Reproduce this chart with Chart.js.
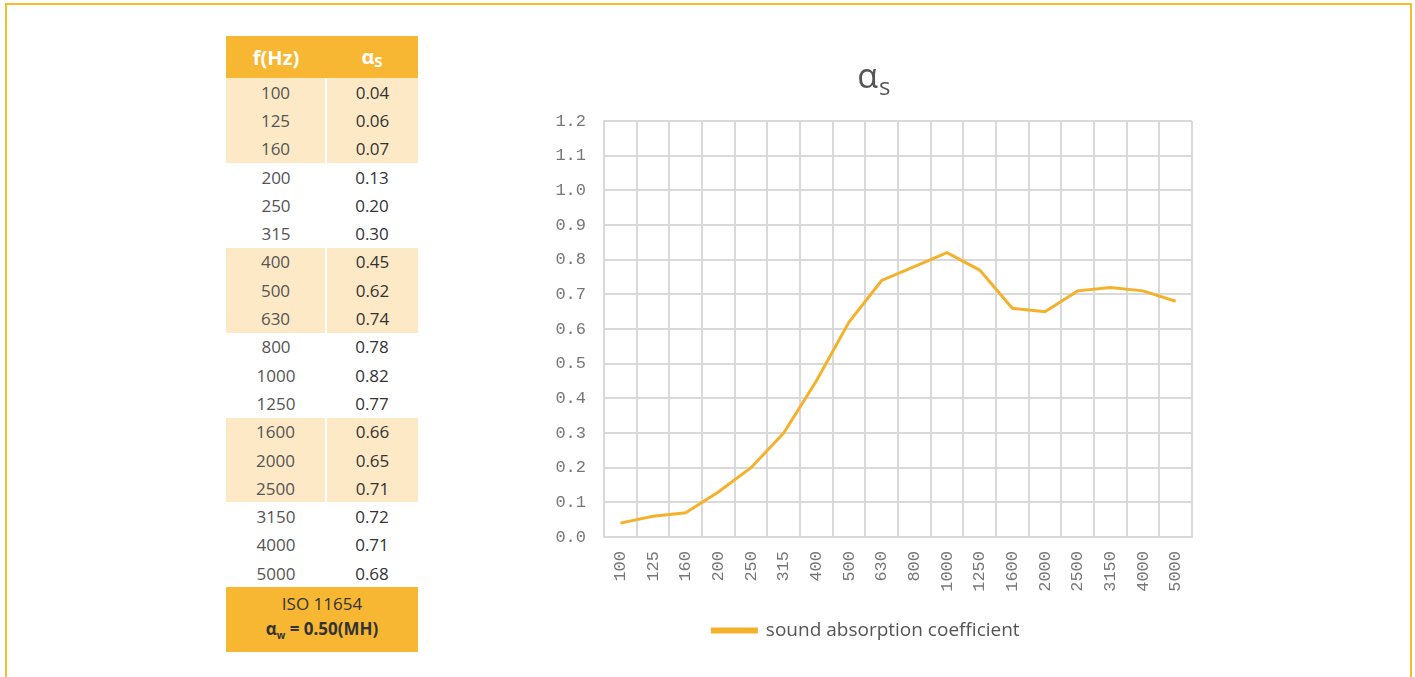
<!DOCTYPE html>
<html>
<head>
<meta charset="utf-8">
<script src="https://cdn.jsdelivr.net/npm/chart.js@4/dist/chart.umd.min.js"></script>
<style>
  html, body { margin: 0; padding: 0; background: #fff; }
  body { width: 1415px; height: 677px; position: relative; overflow: hidden; font-family: "Open Sans", "Noto Sans", sans-serif; }
  .frame { position: absolute; left: 5px; top: 3px; width: 1403px; height: 690px; border: 2px solid #f7bb2e; border-bottom: none; }
  table.data { position: absolute; left: 226px; top: 36px; width: 192px; border-collapse: collapse; }
  table.data td, table.data th { padding: 0; text-align: center; }
  table.data th { background: #f7b733; color: #fff; font-size: 20px; font-weight: bold; height: 42px; }
  table.data td { height: 28.3px; font-size: 17px; }
  table.data td.f { color: #555; width: 99px; }
  table.data td.v { color: #333; }
  table.data tr.shade td { background: #fde9c6; }
  table.data tr.shade td.f { border-right: 2px solid #fff; }
  table.data tr.foot td { background: #f7b733; color: #333; height: 65px; line-height: 25px; font-size: 17px; }
  #wrap { position: absolute; left: 540px; top: 40px; width: 680px; height: 620px; }
</style>
</head>
<body>
<div class="frame"></div>
<table class="data" id="tbl"></table>
<div id="wrap"><canvas id="absChart"></canvas></div>
<script>
const frequencies = ['100', '125', '160', '200', '250', '315', '400', '500', '630', '800',
    '1000', '1250', '1600', '2000', '2500', '3150', '4000', '5000'];
const absorption = [0.04, 0.06, 0.07, 0.13, 0.20, 0.30, 0.45, 0.62, 0.74, 0.78,
    0.82, 0.77, 0.66, 0.65, 0.71, 0.72, 0.71, 0.68];
const yTicks = [0.0, 0.1, 0.2, 0.3, 0.4, 0.5, 0.6, 0.7, 0.8, 0.9, 1.0, 1.1, 1.2];
const seriesLabel = 'sound absorption coefficient';
const lineColor = '#f4b22c';

// table on the left, built from the same arrays
const tbl = document.getElementById('tbl');
let html = '<tr><th>f(Hz)</th><th>α<span style="font-size:15px;vertical-align:-3px">S</span></th></tr>';
frequencies.forEach(function (f, i) {
    const cls = Math.floor(i / 3) % 2 === 0 ? 'shade' : '';
    html += '<tr class="' + cls + '"><td class="f">' + f + '</td><td class="v">' + absorption[i].toFixed(2) + '</td></tr>';
});
html += '<tr class="foot"><td colspan="2">ISO 11654<br><b>α<sub style="font-size:10px">w</sub> = 0.50(MH)</b></td></tr>';
tbl.innerHTML = html;

const titlePlugin = {
    id: 'alphaTitle',
    afterDraw(chart) {
        const ctx = chart.ctx;
        ctx.save();
        ctx.fillStyle = '#555';
        ctx.textBaseline = 'alphabetic';
        ctx.font = '34px "Open Sans", sans-serif';
        const cx = chart.width / 2 - 4;
        ctx.textAlign = 'right';
        ctx.fillText('α', cx + 2, 48);
        ctx.textAlign = 'left';
        ctx.font = '24px "Open Sans", sans-serif';
        ctx.fillText('s', cx + 3, 55);
        ctx.restore();
    }
};

const monoFont = { family: '"Liberation Mono", "DejaVu Sans Mono", monospace', size: 17 };

new Chart(document.getElementById('absChart'), {
    type: 'line',
    data: {
        labels: frequencies,
        datasets: [{
            label: seriesLabel,
            data: absorption,
            borderColor: lineColor,
            backgroundColor: lineColor,
            borderWidth: 3,
            pointRadius: 0,
            tension: 0,
            fill: false
        }]
    },
    options: {
        responsive: true,
        maintainAspectRatio: false,
        animation: false,
        layout: { padding: { top: 81, right: 28, left: 0, bottom: 10 } },
        plugins: {
            title: { display: false },
            tooltip: { enabled: false },
            legend: {
                position: 'bottom',
                labels: {
                    boxWidth: 44,
                    boxHeight: 3,
                    padding: 4,
                    color: '#555',
                    font: { family: '"Open Sans", "Noto Sans", sans-serif', size: 19 }
                }
            }
        },
        scales: {
            x: {
                offset: true,
                grid: { offset: true, color: '#d9d9d9', lineWidth: 2, drawTicks: false },
                border: { color: '#d9d9d9', width: 2 },
                ticks: {
                    color: '#777',
                    font: monoFont,
                    minRotation: 90,
                    maxRotation: 90,
                    autoSkip: false,
                    padding: 14
                },
                afterFit(scale) { scale.height = 80; }
            },
            y: {
                min: 0,
                max: 1.2,
                afterBuildTicks(scale) { scale.ticks = yTicks.map(v => ({ value: v })); },
                grid: { color: '#d9d9d9', lineWidth: 2, drawTicks: false },
                border: { color: '#d9d9d9', width: 2 },
                ticks: {
                    color: '#777',
                    font: monoFont,
                    padding: 18,
                    callback: v => v.toFixed(1)
                },
                afterFit(scale) { scale.width = 64; }
            }
        }
    },
    plugins: [titlePlugin]
});
</script>
</body>
</html>
